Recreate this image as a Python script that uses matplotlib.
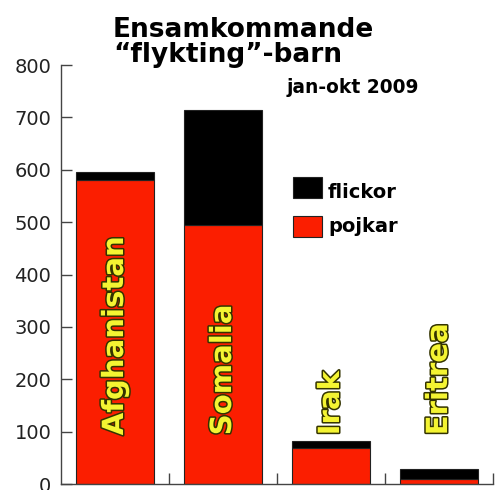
import numpy as np
import matplotlib.pyplot as plt
import matplotlib.patheffects as pe
from matplotlib.patches import Rectangle

# data
countries = ['Afghanistan', 'Somalia', 'Irak', 'Eritrea']
pojkar = [580, 494, 69, 9]
flickor = [15, 220, 14, 20]
yticks = [0, 100, 200, 300, 400, 500, 600, 700, 800]

RED = '#fb1e00'
YELLOW = '#f4f432'


def main():
    fig = plt.figure(figsize=(5, 4.9), dpi=100)
    ax = fig.add_axes([0.122, 0.0122, 0.864, 0.855])

    x = np.arange(len(countries))
    ax.bar(x, pojkar, width=0.72, color=RED, edgecolor='#222222', linewidth=0.8)
    ax.bar(x, flickor, width=0.72, bottom=pojkar, color='black',
           edgecolor='#222222', linewidth=0.8)

    for xi, name in zip(x, countries):
        ax.text(xi, 93, name, rotation=90, ha='center', va='bottom',
                fontsize=21, fontweight='bold', color=YELLOW,
                family='DejaVu Sans',
                path_effects=[pe.withStroke(linewidth=2.2, foreground='#333300')])

    ax.set_xlim(-0.5, 3.5)
    ax.set_ylim(0, 800)
    ax.set_yticks(yticks)
    ax.set_xticks([0.5, 1.5, 2.5, 3.5])
    ax.set_xticklabels([])
    ax.tick_params(axis='x', direction='in', length=8, width=1, color='#444444')
    ax.tick_params(axis='y', direction='in', length=8, width=1, color='#444444',
                   labelsize=14, labelcolor='#222222', pad=7)
    for side in ['top', 'right']:
        ax.spines[side].set_visible(False)
    for side in ['left', 'bottom']:
        ax.spines[side].set_color('#444444')
        ax.spines[side].set_linewidth(1)

    # legend boxes
    ax.add_patch(Rectangle((0.537, 0.683), 0.067, 0.050, transform=ax.transAxes,
                           facecolor='black', edgecolor='#222222', lw=0.8))
    ax.add_patch(Rectangle((0.537, 0.589), 0.067, 0.050, transform=ax.transAxes,
                           facecolor=RED, edgecolor='#222222', lw=0.8))
    ax.text(0.618, 0.683, 'flickor', transform=ax.transAxes, va='baseline',
            fontsize=14, fontweight='bold', family='DejaVu Sans')
    ax.text(0.618, 0.601, 'pojkar', transform=ax.transAxes, va='baseline',
            fontsize=14, fontweight='bold', family='DejaVu Sans')

    fig.text(0.226, 0.9245, 'Ensamkommande', fontsize=19, fontweight='bold',
             family='DejaVu Sans', va='baseline')
    fig.text(0.226, 0.873, '\u201cflykting\u201d-barn', fontsize=19,
             fontweight='bold', family='DejaVu Sans', va='baseline')
    fig.text(0.574, 0.81, 'jan-okt 2009', fontsize=13.4, fontweight='bold',
             family='DejaVu Sans', va='baseline')

    fig.savefig('out.png', dpi=100)


if __name__ == '__main__':
    main()
